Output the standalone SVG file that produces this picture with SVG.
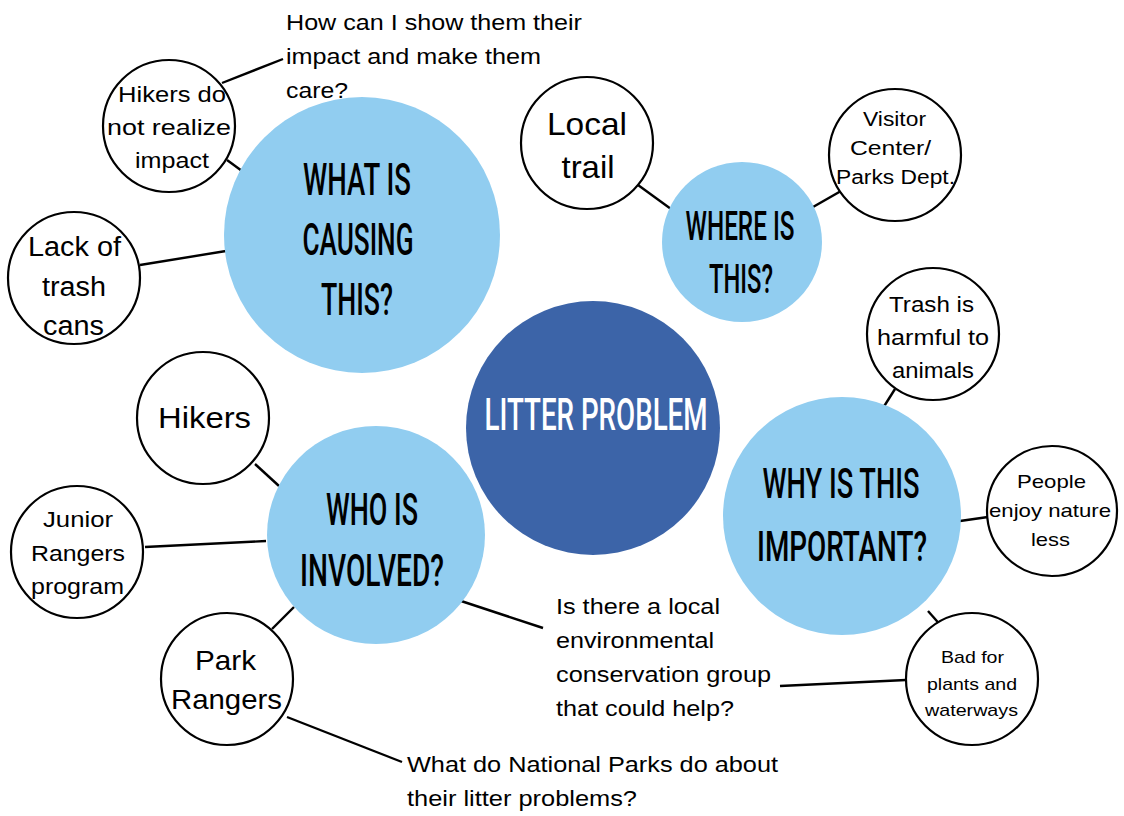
<svg xmlns="http://www.w3.org/2000/svg" width="1124" height="816" viewBox="0 0 1124 816">
<style>
.hub{fill:#91cdf0}
.core{fill:#3c64a8}
.leaf{fill:#fff;stroke:#000;stroke-width:2.2}
.conn line{stroke:#000;stroke-width:2.4}
.h{font-family:Roboto,"DejaVu Sans Condensed","Liberation Sans",sans-serif;font-weight:500;text-anchor:middle;fill:#000}
.hw{fill:#fff}
.t{font-family:"Liberation Sans",Arial,sans-serif;text-anchor:middle;fill:#000}
.q{font-family:"Liberation Sans",Arial,sans-serif;font-size:22px;fill:#000}
</style>
<rect width="1124" height="816" fill="#fff"/>
<g class="conn">
<line x1="222" y1="83" x2="283" y2="59"/>
<line x1="227" y1="160" x2="242" y2="171"/>
<line x1="140" y1="265" x2="226" y2="251"/>
<line x1="638" y1="185" x2="671" y2="209"/>
<line x1="813" y1="207" x2="841" y2="191"/>
<line x1="895" y1="389" x2="883" y2="408"/>
<line x1="960" y1="521" x2="988" y2="517"/>
<line x1="928" y1="611" x2="943" y2="628"/>
<line x1="780" y1="686" x2="906" y2="680"/>
<line x1="255" y1="464" x2="279" y2="486"/>
<line x1="145" y1="547" x2="266" y2="541"/>
<line x1="272" y1="629" x2="294" y2="607"/>
<line x1="455" y1="599" x2="543" y2="628"/>
<line x1="287" y1="717" x2="402" y2="762"/>
</g>
<g id="causing">
<circle class="hub" cx="362" cy="235" r="138"/>
<text class="h" font-size="45"><tspan x="357" y="195" textLength="108" lengthAdjust="spacingAndGlyphs">WHAT IS</tspan><tspan x="358" y="255" textLength="111" lengthAdjust="spacingAndGlyphs">CAUSING</tspan><tspan x="357" y="315" textLength="72" lengthAdjust="spacingAndGlyphs">THIS?</tspan></text>
</g>
<g id="where">
<circle class="hub" cx="742" cy="242" r="80"/>
<text class="h" font-size="40"><tspan x="740" y="240" textLength="109" lengthAdjust="spacingAndGlyphs">WHERE IS</tspan><tspan x="741" y="293" textLength="64" lengthAdjust="spacingAndGlyphs">THIS?</tspan></text>
</g>
<g id="litter">
<circle class="core" cx="593" cy="428" r="127"/>
<text class="h hw" font-size="45" x="596" y="430" textLength="223" lengthAdjust="spacingAndGlyphs">LITTER PROBLEM</text>
</g>
<g id="who">
<circle class="hub" cx="376" cy="535" r="109"/>
<text class="h" font-size="45"><tspan x="372" y="525" textLength="92" lengthAdjust="spacingAndGlyphs">WHO IS</tspan><tspan x="372" y="586" textLength="144" lengthAdjust="spacingAndGlyphs">INVOLVED?</tspan></text>
</g>
<g id="why">
<circle class="hub" cx="842" cy="516" r="119"/>
<text class="h" font-size="43"><tspan x="841" y="498" textLength="157" lengthAdjust="spacingAndGlyphs">WHY IS THIS</tspan><tspan x="842" y="561" textLength="170" lengthAdjust="spacingAndGlyphs">IMPORTANT?</tspan></text>
</g>
<g id="hikers-do-not-realize">
<circle class="leaf" cx="169" cy="126" r="66"/>
<text class="t" font-size="22"><tspan x="172" y="102" textLength="108" lengthAdjust="spacingAndGlyphs">Hikers do</tspan><tspan x="169" y="135" textLength="124" lengthAdjust="spacingAndGlyphs">not realize</tspan><tspan x="172" y="168" textLength="74" lengthAdjust="spacingAndGlyphs">impact</tspan></text>
</g>
<g id="lack-of-trash">
<circle class="leaf" cx="74" cy="278" r="66"/>
<text class="t" font-size="27"><tspan x="74.5" y="256" textLength="93" lengthAdjust="spacingAndGlyphs">Lack of</tspan><tspan x="74" y="296" textLength="64" lengthAdjust="spacingAndGlyphs">trash</tspan><tspan x="73.5" y="335" textLength="61" lengthAdjust="spacingAndGlyphs">cans</tspan></text>
</g>
<g id="local-trail">
<circle class="leaf" cx="587" cy="143" r="66"/>
<text class="t" font-size="32"><tspan x="587" y="135" textLength="80" lengthAdjust="spacingAndGlyphs">Local</tspan><tspan x="588" y="178" textLength="53" lengthAdjust="spacingAndGlyphs">trail</tspan></text>
</g>
<g id="visitor-center">
<circle class="leaf" cx="895" cy="155" r="66"/>
<text class="t" font-size="20"><tspan x="894.5" y="126" textLength="63" lengthAdjust="spacingAndGlyphs">Visitor</tspan><tspan x="890.5" y="155" textLength="81" lengthAdjust="spacingAndGlyphs">Center/</tspan><tspan x="895.5" y="184" textLength="119" lengthAdjust="spacingAndGlyphs">Parks Dept.</tspan></text>
</g>
<g id="trash-harmful">
<circle class="leaf" cx="933" cy="334" r="66"/>
<text class="t" font-size="22"><tspan x="931.5" y="312" textLength="85" lengthAdjust="spacingAndGlyphs">Trash is</tspan><tspan x="933" y="345" textLength="112" lengthAdjust="spacingAndGlyphs">harmful to</tspan><tspan x="933" y="378" textLength="82" lengthAdjust="spacingAndGlyphs">animals</tspan></text>
</g>
<g id="people-enjoy">
<circle class="leaf" cx="1052" cy="511" r="65"/>
<text class="t" font-size="19"><tspan x="1051.5" y="488" textLength="69" lengthAdjust="spacingAndGlyphs">People</tspan><tspan x="1050" y="517" textLength="122" lengthAdjust="spacingAndGlyphs">enjoy nature</tspan><tspan x="1050.5" y="546" textLength="39" lengthAdjust="spacingAndGlyphs">less</tspan></text>
</g>
<g id="bad-for-plants">
<circle class="leaf" cx="972" cy="679" r="66"/>
<text class="t" font-size="17"><tspan x="972.5" y="663" textLength="63" lengthAdjust="spacingAndGlyphs">Bad for</tspan><tspan x="972" y="690" textLength="90" lengthAdjust="spacingAndGlyphs">plants and</tspan><tspan x="971.5" y="716" textLength="93" lengthAdjust="spacingAndGlyphs">waterways</tspan></text>
</g>
<g id="hikers">
<circle class="leaf" cx="203" cy="418" r="66"/>
<text class="t" font-size="30" x="204.5" y="428" textLength="93" lengthAdjust="spacingAndGlyphs">Hikers</text>
</g>
<g id="junior-rangers">
<circle class="leaf" cx="77" cy="552" r="66"/>
<text class="t" font-size="22"><tspan x="78" y="527" textLength="70" lengthAdjust="spacingAndGlyphs">Junior</tspan><tspan x="78" y="561" textLength="94" lengthAdjust="spacingAndGlyphs">Rangers</tspan><tspan x="77.5" y="594" textLength="93" lengthAdjust="spacingAndGlyphs">program</tspan></text>
</g>
<g id="park-rangers">
<circle class="leaf" cx="227" cy="679" r="66"/>
<text class="t" font-size="28"><tspan x="225.5" y="670" textLength="61" lengthAdjust="spacingAndGlyphs">Park</tspan><tspan x="226.5" y="709" textLength="111" lengthAdjust="spacingAndGlyphs">Rangers</tspan></text>
</g>
<g id="q-show-impact">
<text class="q"><tspan x="286" y="30" textLength="296" lengthAdjust="spacingAndGlyphs">How can I show them their</tspan><tspan x="286" y="64" textLength="255" lengthAdjust="spacingAndGlyphs">impact and make them</tspan><tspan x="286" y="98" textLength="62" lengthAdjust="spacingAndGlyphs">care?</tspan></text>
</g>
<g id="q-local-group">
<text class="q"><tspan x="556" y="614" textLength="164" lengthAdjust="spacingAndGlyphs">Is there a local</tspan><tspan x="556" y="648" textLength="158" lengthAdjust="spacingAndGlyphs">environmental</tspan><tspan x="556" y="682" textLength="215" lengthAdjust="spacingAndGlyphs">conservation group</tspan><tspan x="556" y="716" textLength="178" lengthAdjust="spacingAndGlyphs">that could help?</tspan></text>
</g>
<g id="q-national-parks">
<text class="q"><tspan x="407" y="772" textLength="371" lengthAdjust="spacingAndGlyphs">What do National Parks do about</tspan><tspan x="407" y="806" textLength="230" lengthAdjust="spacingAndGlyphs">their litter problems?</tspan></text>
</g>
</svg>
